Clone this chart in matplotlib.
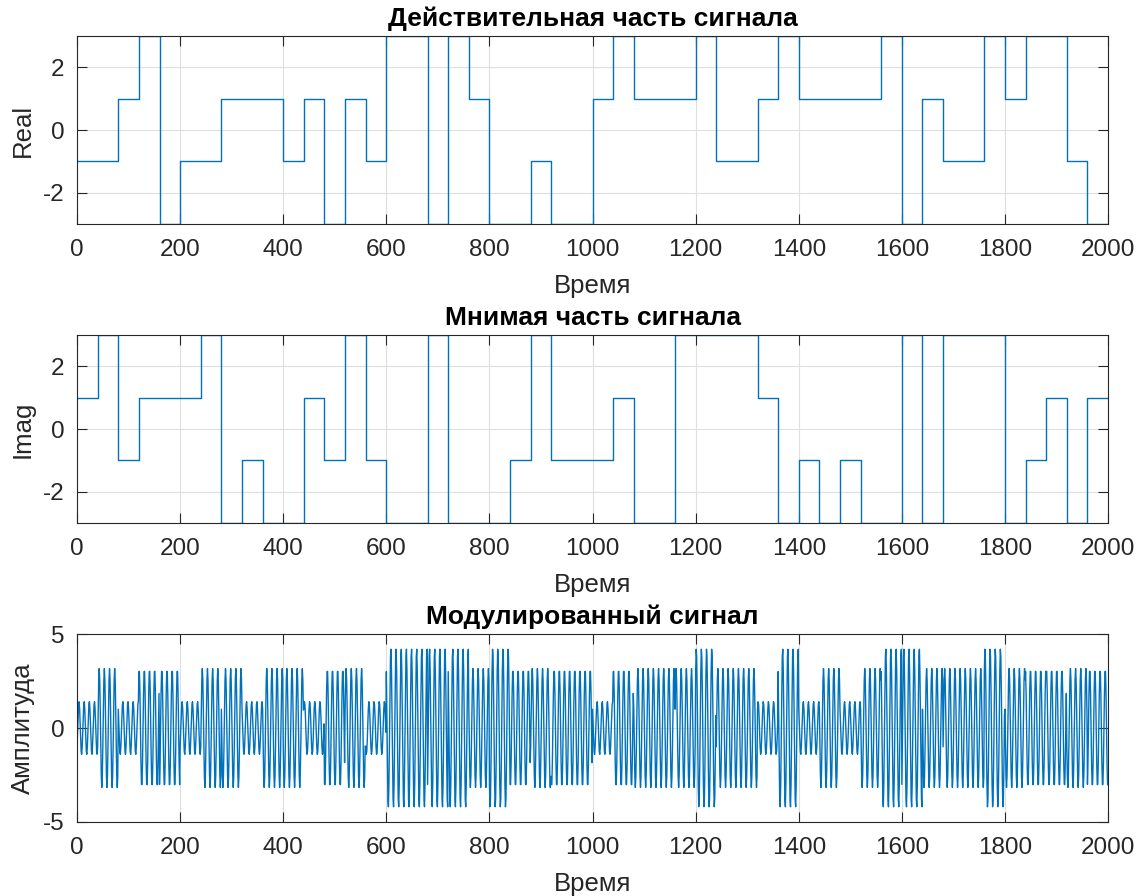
import numpy as np
import matplotlib
matplotlib.use('Agg')
import matplotlib.pyplot as plt

# 16-QAM symbols, 40 samples each
real_part = [-1, -1, 1, 3, -3, -1, -1, 1, 1, 1,
             -1, 1, -3, 1, -1, 3, 3, -3, 3, 1,
             -3, -3, -1, -3, -3, 1, 3, 1, 1, 1,
             3, -1, -1, 1, 3, 1, 1, 1, 1, 3,
             -3, 1, -1, -1, 3, 1, 3, 3, -1, -3]
imag_part = [1, 3, -1, 1, 1, 1, 3, -3, -1, -3,
             -3, 1, -1, 3, -1, -3, -3, 3, -3, -3,
             -3, -1, 3, -1, -1, -1, 1, -3, -3, 3,
             3, 3, 3, 1, -3, -1, -3, -1, -3, -3,
             3, -3, 3, 3, 3, -3, -1, 1, -3, 1]
samples_per_symbol = 40
carrier_freq = 0.1  # cycles per sample

titles = ['Действительная часть сигнала', 'Мнимая часть сигнала', 'Модулированный сигнал']
ylabels = ['Real', 'Imag', 'Амплитуда']
xlabel = 'Время'

plt.rcParams['font.family'] = ['Liberation Sans', 'DejaVu Sans']
plt.rcParams['axes.unicode_minus'] = False

blue = '#0072BD'
dark = '#262626'

# baseband and passband
I = np.repeat(real_part, samples_per_symbol).astype(float)
Q = np.repeat(imag_part, samples_per_symbol).astype(float)
t = np.arange(len(I))
signal = I * np.cos(2 * np.pi * carrier_freq * t) + Q * np.sin(2 * np.pi * carrier_freq * t)

edges = np.arange(len(real_part) + 1) * samples_per_symbol

fig = plt.figure(figsize=(11.38, 8.96), dpi=100)
rects = [[0.0677, 0.75, 0.906, 0.2098],
         [0.0677, 0.4163, 0.906, 0.2098],
         [0.0677, 0.0826, 0.906, 0.2098]]
axes = [fig.add_axes(r) for r in rects]

axes[0].step(edges, list(real_part) + [real_part[-1]], where='post', color=blue, lw=1.0)
axes[1].step(edges, list(imag_part) + [imag_part[-1]], where='post', color=blue, lw=1.0)
axes[2].plot(t, signal, color=blue, lw=1.0)

for i, ax in enumerate(axes):
    ax.set_xlim(0, 2000)
    ax.set_xticks(np.arange(0, 2001, 200))
    if i < 2:
        ax.set_ylim(-3, 3)
        ax.set_yticks([-2, 0, 2])
    else:
        ax.set_ylim(-5, 5)
        ax.set_yticks([-5, 0, 5])
    ax.set_title(titles[i], fontweight='bold', fontsize=19, color='black', pad=7)
    ax.set_ylabel(ylabels[i], fontsize=18.5, color=dark, labelpad=6)
    ax.set_xlabel(xlabel, fontsize=18.5, color=dark, labelpad=9)
    ax.grid(True, color='#dfdfdf', lw=0.8)
    ax.set_axisbelow(True)
    ax.tick_params(direction='in', length=7, width=0.8, top=True, right=True,
                   labelsize=17.5, colors=dark)
    ax.tick_params(axis='x', pad=11)
    ax.tick_params(axis='y', pad=9)
    for s in ax.spines.values():
        s.set_color(dark)
        s.set_linewidth(0.8)

fig.savefig('out.png', dpi=100)
